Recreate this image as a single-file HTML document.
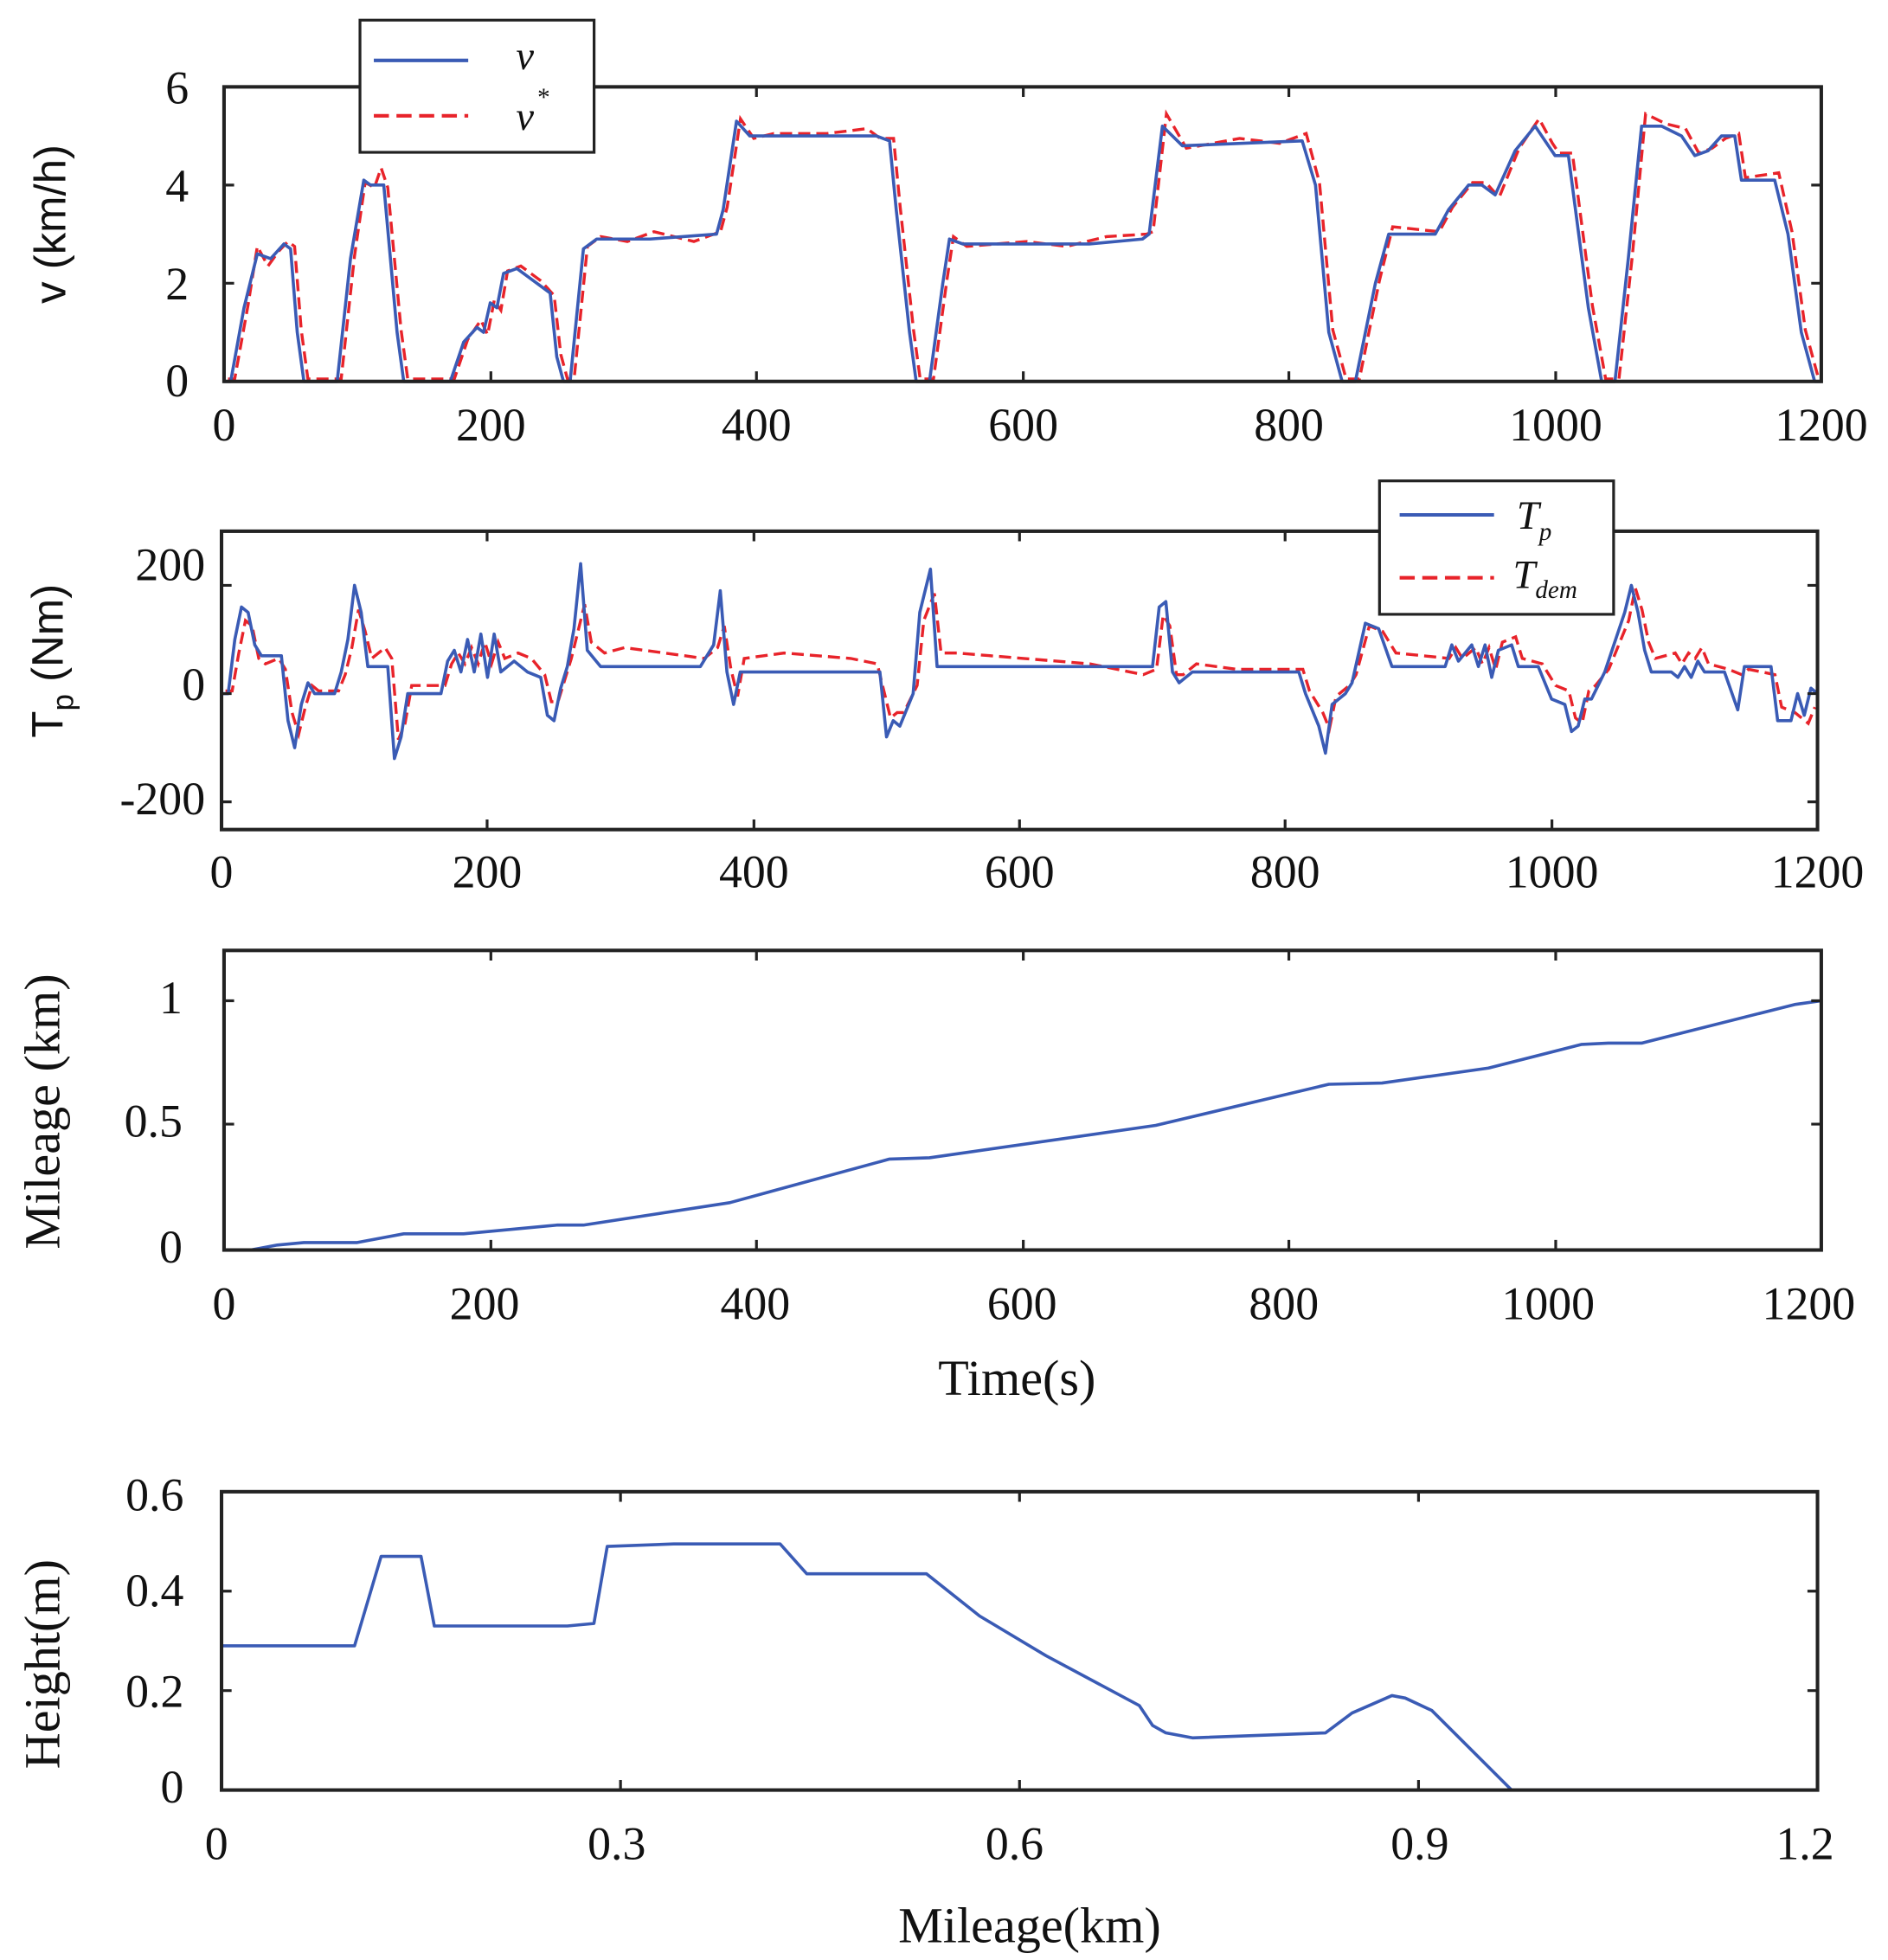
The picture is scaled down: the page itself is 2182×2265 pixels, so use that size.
<!DOCTYPE html>
<html><head><meta charset="utf-8"><style>
html,body{margin:0;padding:0;background:#fff}
svg{display:block}
text{font-family:"Liberation Serif",serif;font-size:37px;fill:#111}
.s{font-family:"Liberation Sans",sans-serif}
.ax{fill:none;stroke:#222;stroke-width:2.8}
.b{fill:none;stroke:#3a5bb5;stroke-width:3.6;vector-effect:non-scaling-stroke;stroke-linejoin:round}
.r{fill:none;stroke:#e8232a;stroke-width:3.4;stroke-dasharray:14 7;vector-effect:non-scaling-stroke}
.tk{stroke:#222;stroke-width:2.2}
</style></head><body>
<svg width="2182" height="2265" viewBox="0 0 1500 1557" preserveAspectRatio="none" xmlns="http://www.w3.org/2000/svg">
<!-- Panel 1 -->
<g transform="translate(178,303) scale(1.0575,-39)">
<polyline class="r" transform="translate(3,0.05)" points="0,0 5,0 15,1.5 22,2.7 30,2.3 38,2.6 45,2.8 50,2.7 55,1 60,0 85,0 95,2.5 103,4.0 110,3.9 115,4.3 120,3.9 130,1 135,0 170,0 180,0.8 190,1.2 195,0.9 200,1.6 205,1.4 210,2.2 220,2.3 235,2.0 245,1.7 250,0.5 255,0 260,0 270,2.7 280,2.9 300,2.8 320,3.0 350,2.8 370,3.0 375,3.5 385,5.3 395,4.9 410,5.0 450,5.0 480,5.1 490,4.9 500,4.9 505,3.5 515,1 520,0 530,0 540,2.0 545,2.9 555,2.7 600,2.8 630,2.7 660,2.9 690,2.95 695,3.0 705,5.4 720,4.7 760,4.9 790,4.8 810,5.0 820,4.0 830,1.0 840,0 850,0 865,2.0 875,3.1 910,3.0 920,3.5 935,4.0 945,4.0 955,3.7 970,4.7 985,5.3 995,4.8 1000,4.6 1010,4.6 1025,1.5 1035,0 1045,0 1055,2.5 1065,5.4 1080,5.2 1095,5.1 1105,4.6 1115,4.7 1125,4.9 1135,5.0 1140,4.1 1165,4.2 1175,3.0 1185,1.0 1195,0 1197,0"/>
<polyline class="b" points="0,0 5,0 15,1.5 25,2.6 35,2.5 45,2.8 50,2.7 55,1 60,0 85,0 95,2.5 105,4.1 110,4.0 120,4.0 130,1 135,0 170,0 180,0.8 190,1.1 195,1.0 200,1.6 205,1.5 210,2.2 220,2.3 235,2.0 245,1.8 250,0.5 255,0 260,0 270,2.7 280,2.9 320,2.9 370,3.0 375,3.5 385,5.3 395,5.0 490,5.0 500,4.9 505,3.5 515,1 520,0 530,0 540,2.0 545,2.9 555,2.8 650,2.8 690,2.9 695,3.0 705,5.2 720,4.8 810,4.9 820,4.0 830,1.0 840,0 850,0 865,2.0 875,3.0 910,3.0 920,3.5 935,4.0 945,4.0 955,3.8 970,4.7 985,5.2 995,4.8 1000,4.6 1010,4.6 1025,1.5 1035,0 1045,0 1055,2.5 1065,5.2 1080,5.2 1095,5.0 1105,4.6 1115,4.7 1125,5.0 1135,5.0 1140,4.1 1165,4.1 1175,3.0 1185,1.0 1195,0 1200,0"/>
</g>
<rect class="ax" x="178" y="69" width="1269" height="234"/>
<g class="tk">
<path d="M390,303v-8M601,303v-8M813,303v-8M1024,303v-8M1236,303v-8M390,69v8M601,69v8M813,69v8M1024,69v8M1236,69v8M178,147h8M178,225h8M1447,147h-8M1447,225h-8"/>
</g>
<g text-anchor="end"><text x="150" y="82">6</text><text x="150" y="160">4</text><text x="150" y="238">2</text><text x="150" y="315">0</text></g>
<g text-anchor="middle"><text x="178" y="350">0</text><text x="390" y="350">200</text><text x="601" y="350">400</text><text x="813" y="350">600</text><text x="1024" y="350">800</text><text x="1236" y="350">1000</text><text x="1447" y="350">1200</text></g>
<text class="s" transform="translate(52,178) rotate(-90)" text-anchor="middle" style="font-size:35px">v (km/h)</text>
<rect x="286" y="16" width="186" height="105" fill="#fff" stroke="#222" stroke-width="2.2"/>
<line x1="297" y1="48" x2="372" y2="48" stroke="#3a5bb5" stroke-width="2.8"/>
<line x1="297" y1="92" x2="372" y2="92" stroke="#e8232a" stroke-width="2.8" stroke-dasharray="12 6"/>
<text x="410" y="55" font-style="italic" style="font-size:32px">v</text>
<text x="410" y="103" font-style="italic" style="font-size:32px">v</text><text x="427" y="84" style="font-size:20px">*</text>

<!-- Panel 2 -->
<g transform="translate(176,551) scale(1.0567,-0.43)">
<polyline class="r" transform="translate(3,5)" points="0,0 5,0 10,70 15,130 20,120 25,60 30,50 40,60 45,40 50,-40 55,-80 60,-30 65,10 70,0 85,0 90,30 95,80 100,150 105,110 110,60 120,80 125,60 130,-90 135,-60 140,10 165,10 170,50 175,70 180,50 185,80 190,50 195,90 200,50 205,90 210,60 220,70 230,60 240,30 245,-20 250,-20 255,20 260,60 265,110 270,160 275,90 285,70 300,80 330,70 360,60 370,80 375,120 380,40 385,-10 390,60 420,70 470,60 490,50 495,0 500,-50 505,-40 510,-40 520,10 525,130 533,180 538,70 550,70 600,60 650,50 690,30 700,40 705,140 710,120 715,30 720,30 730,50 760,40 810,40 815,0 825,-40 830,-70 835,-10 845,10 850,30 860,120 870,110 880,70 920,60 925,80 930,60 940,80 945,50 950,80 955,40 960,90 970,100 975,60 990,50 995,30 1000,10 1010,0 1015,-50 1020,-60 1025,0 1030,10 1040,40 1055,130 1060,190 1065,150 1070,90 1075,60 1090,70 1095,50 1100,70 1105,60 1110,80 1115,50 1130,40 1140,30 1145,40 1165,30 1170,-30 1180,-40 1185,-50 1190,-60 1195,-30"/>
<polyline class="b" points="0,0 5,0 10,100 15,160 20,150 25,90 30,70 40,70 45,70 50,-50 55,-100 60,-20 65,20 70,0 85,0 90,40 95,100 100,200 105,150 110,50 120,50 125,50 130,-120 135,-80 140,0 165,0 170,60 175,80 180,40 185,100 190,40 195,110 200,30 205,110 210,40 220,60 230,40 240,30 245,-40 250,-50 255,10 260,50 265,120 270,240 275,80 285,50 360,50 370,90 375,190 380,40 385,-20 390,40 495,40 500,-80 505,-50 510,-60 520,0 525,150 533,230 538,50 550,50 700,50 705,160 710,170 715,40 720,20 730,40 810,40 815,0 825,-60 830,-110 835,-20 845,0 850,20 860,130 870,120 880,50 920,50 925,90 930,60 940,90 945,50 950,90 955,30 960,80 970,90 975,50 990,50 995,20 1000,-10 1010,-20 1015,-70 1020,-60 1025,-10 1030,-10 1040,40 1055,150 1060,200 1065,150 1070,80 1075,40 1090,40 1095,30 1100,50 1105,30 1110,60 1115,40 1130,40 1140,-30 1145,50 1165,50 1170,-50 1180,-50 1185,0 1190,-40 1195,10 1200,0"/>
</g>
<rect class="ax" x="176" y="422" width="1268" height="237"/>
<g class="tk"><path d="M387,659v-8M599,659v-8M810,659v-8M1021,659v-8M1233,659v-8M387,422v8M599,422v8M810,422v8M1021,422v8M1233,422v8M176,465h8M176,551h8M176,637h8M1444,465h-8M1444,551h-8M1444,637h-8"/></g>
<g text-anchor="end"><text x="163" y="461">200</text><text x="163" y="556">0</text><text x="163" y="647">-200</text></g>
<g text-anchor="middle"><text x="176" y="705">0</text><text x="387" y="705">200</text><text x="599" y="705">400</text><text x="810" y="705">600</text><text x="1021" y="705">800</text><text x="1233" y="705">1000</text><text x="1444" y="705">1200</text></g>
<text class="s" transform="translate(50,525) rotate(-90)" text-anchor="middle" style="font-size:35px">T<tspan dy="8" style="font-size:24px">p</tspan><tspan dy="-8"> (Nm)</tspan></text>
<rect x="1096" y="382" width="186" height="106" fill="#fff" stroke="#222" stroke-width="2.2"/>
<line x1="1112" y1="409" x2="1187" y2="409" stroke="#3a5bb5" stroke-width="2.8"/>
<line x1="1112" y1="459" x2="1187" y2="459" stroke="#e8232a" stroke-width="2.8" stroke-dasharray="12 6"/>
<text x="1205" y="420" font-style="italic" style="font-size:32px">T<tspan dy="9" style="font-size:20px">p</tspan></text>
<text x="1202" y="467" font-style="italic" style="font-size:32px">T<tspan dy="8" style="font-size:20px">dem</tspan></text>

<!-- Panel 3 -->
<g transform="translate(178,993) scale(1.0575,-198)">
<polyline class="b" points="0,0 20,0 40,0.02 60,0.03 100,0.03 120,0.05 135,0.065 180,0.065 200,0.075 250,0.1 270,0.1 380,0.19 500,0.365 530,0.37 700,0.5 830,0.665 870,0.67 950,0.73 1020,0.825 1040,0.83 1065,0.83 1180,0.985 1200,1.0"/>
</g>
<rect class="ax" x="178" y="755" width="1269" height="238"/>
<g class="tk"><path d="M390,993v-8M601,993v-8M813,993v-8M1024,993v-8M1236,993v-8M390,755v8M601,755v8M813,755v8M1024,755v8M1236,755v8M178,795h8M178,893h8M1447,795h-8M1447,893h-8"/></g>
<g text-anchor="end"><text x="145" y="805">1</text><text x="145" y="903">0.5</text><text x="145" y="1003">0</text></g>
<g text-anchor="middle"><text x="178" y="1048">0</text><text x="385" y="1048">200</text><text x="600" y="1048">400</text><text x="812" y="1048">600</text><text x="1020" y="1048">800</text><text x="1230" y="1048">1000</text><text x="1437" y="1048">1200</text></g>
<text x="808" y="1108" text-anchor="middle" style="font-size:40px">Time(s)</text>
<text transform="translate(47,883) rotate(-90)" text-anchor="middle" style="font-size:40px">Mileage (km)</text>

<!-- Panel 4 -->
<g transform="translate(176,1422) scale(1056.7,-395)">
<polyline class="b" points="0,0.29 0.1,0.29 0.12,0.47 0.15,0.47 0.16,0.33 0.26,0.33 0.28,0.335 0.29,0.49 0.34,0.495 0.42,0.495 0.44,0.435 0.53,0.435 0.57,0.35 0.62,0.27 0.69,0.17 0.7,0.13 0.71,0.115 0.73,0.105 0.83,0.115 0.85,0.155 0.88,0.19 0.89,0.185 0.91,0.16 0.97,0 1.2,0"/>
</g>
<rect class="ax" x="176" y="1185" width="1268" height="237"/>
<g class="tk"><path d="M493,1422v-8M810,1422v-8M1127,1422v-8M493,1185v8M810,1185v8M1127,1185v8M176,1264h8M176,1343h8M1444,1264h-8M1444,1343h-8"/></g>
<g text-anchor="end"><text x="146" y="1200">0.6</text><text x="146" y="1276">0.4</text><text x="146" y="1356">0.2</text><text x="146" y="1432">0</text></g>
<g text-anchor="middle"><text x="172" y="1477">0</text><text x="490" y="1477">0.3</text><text x="806" y="1477">0.6</text><text x="1128" y="1477">0.9</text><text x="1434" y="1477">1.2</text></g>
<text x="818" y="1543" text-anchor="middle" style="font-size:40px">Mileage(km)</text>
<text transform="translate(47,1322) rotate(-90)" text-anchor="middle" style="font-size:40px">Height(m)</text>
</svg>
</body></html>
